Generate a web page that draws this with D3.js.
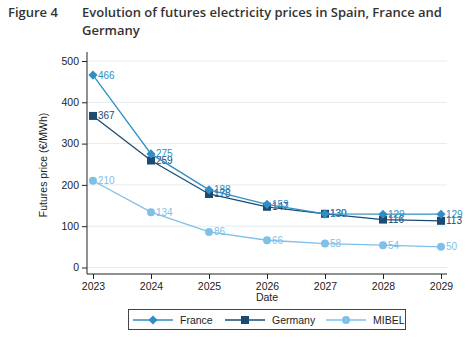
<!DOCTYPE html>
<html>
<head>
<meta charset="utf-8">
<script src="https://cdn.jsdelivr.net/npm/d3@7"></script>
<style>
  body { margin: 0; background: #fff; }
  .title { font-family: "Open Sans", "DejaVu Sans", sans-serif; font-weight: 600; font-size: 13px; fill: #333; }
  .tick text { font-family: "Liberation Sans Narrow", "Liberation Sans", sans-serif; font-size: 10.5px; fill: #222; }
  .lab { font-family: "Liberation Sans Narrow", "Liberation Sans", sans-serif; font-size: 10px; }
  .axt { font-family: "Liberation Sans Narrow", "Liberation Sans", sans-serif; font-size: 10.5px; fill: #222; }
</style>
</head>
<body>
<div class="chart"></div>
<script>
// Data
const years = [2023, 2024, 2025, 2026, 2027, 2028, 2029]
const france = [466, 275, 188, 153, 130, 129, 129]
const germany = [367, 259, 178, 147, 130, 116, 113]
const mibel = [210, 134, 86, 66, 58, 54, 50]
const yTicks = [0, 100, 200, 300, 400, 500]

// diamond = square turned 45 degrees
const series = [
  { name: 'France', values: france, color: '#2f8fc4', symbol: d3.symbolSquare, size: 42, rot: 45 },
  { name: 'Germany', values: germany, color: '#1a4b73', symbol: d3.symbolSquare, size: 64, rot: 0 },
  { name: 'MIBEL', values: mibel, color: '#7fc0e8', symbol: d3.symbolCircle, size: 50, rot: 0 }
]

const width = 469, height = 342

const svg = d3.select('.chart').append('svg')
  .attr('width', width)
  .attr('height', height)

// title
svg.append('text').attr('class', 'title').attr('x', 8).attr('y', 17).text('Figure 4')
svg.append('text').attr('class', 'title').attr('x', 82).attr('y', 17)
  .text('Evolution of futures electricity prices in Spain, France and')
svg.append('text').attr('class', 'title').attr('x', 82).attr('y', 35).text('Germany')

// scales
const x = d3.scalePoint().domain(years).range([93, 441])
const y = d3.scaleLinear().domain([0, 500]).range([267.5, 61])

// grid
svg.append('g')
  .selectAll('line')
  .data(yTicks)
  .join('line')
  .attr('x1', 88).attr('x2', 447)
  .attr('y1', d => y(d)).attr('y2', d => y(d))
  .attr('stroke', '#e3ecef')
  .attr('stroke-width', 1)

// axes
const yAxis = svg.append('g')
  .attr('transform', 'translate(87,0)')
  .call(d3.axisLeft(y).tickValues(yTicks).tickSize(5).tickSizeOuter(0))
yAxis.select('.domain').attr('d', 'M0,52V274').attr('stroke', '#222')
yAxis.selectAll('.tick line').attr('stroke', '#222')

const xAxis = svg.append('g')
  .attr('transform', 'translate(0,274)')
  .call(d3.axisBottom(x).tickSize(5).tickSizeOuter(0))
xAxis.select('.domain').attr('d', 'M87,0H447').attr('stroke', '#222')
xAxis.selectAll('.tick line').attr('stroke', '#222')
xAxis.selectAll('.tick text').attr('dy', '0.8em')

// axis titles
svg.append('text').attr('class', 'axt')
  .attr('transform', 'translate(47,165) rotate(-90)')
  .attr('text-anchor', 'middle')
  .text('Futures price (€/MWh)')
svg.append('text').attr('class', 'axt')
  .attr('x', 267).attr('y', 301).attr('text-anchor', 'middle')
  .text('Date')

// lines, markers, labels
const line = d3.line()
  .x((d, i) => x(years[i]))
  .y(d => y(d))

const plotted = [series[2], series[1], series[0]]
plotted.forEach(s => {
  const g = svg.append('g')
  g.append('path')
    .datum(s.values)
    .attr('d', line)
    .attr('fill', 'none')
    .attr('stroke', s.color)
    .attr('stroke-width', 1.3)
  g.selectAll('path.mk')
    .data(s.values)
    .join('path')
    .attr('class', 'mk')
    .attr('d', d3.symbol().type(s.symbol).size(s.size))
    .attr('transform', (d, i) => `translate(${x(years[i])},${y(d)}) rotate(${s.rot})`)
    .attr('fill', s.color)
  g.selectAll('text')
    .data(s.values)
    .join('text')
    .attr('class', 'lab')
    .attr('x', (d, i) => x(years[i]) + 5)
    .attr('y', d => y(d) + 3.5)
    .attr('fill', s.color)
    .text(d => d)
})

// legend
const legend = svg.append('g')
legend.append('rect')
  .attr('x', 128.5).attr('y', 309.5).attr('width', 277).attr('height', 20)
  .attr('fill', '#fff').attr('stroke', '#444').attr('stroke-width', 1)
const lx = [133, 225, 326]
series.forEach((s, i) => {
  legend.append('line')
    .attr('x1', lx[i]).attr('x2', lx[i] + 40)
    .attr('y1', 320).attr('y2', 320)
    .attr('stroke', s.color).attr('stroke-width', 1.3)
  legend.append('path')
    .attr('d', d3.symbol().type(s.symbol).size(s.size))
    .attr('transform', `translate(${lx[i] + 20},320) rotate(${s.rot})`)
    .attr('fill', s.color)
  legend.append('text')
    .attr('class', 'axt')
    .attr('x', lx[i] + 47).attr('y', 324)
    .text(s.name)
})
</script>
</body>
</html>
